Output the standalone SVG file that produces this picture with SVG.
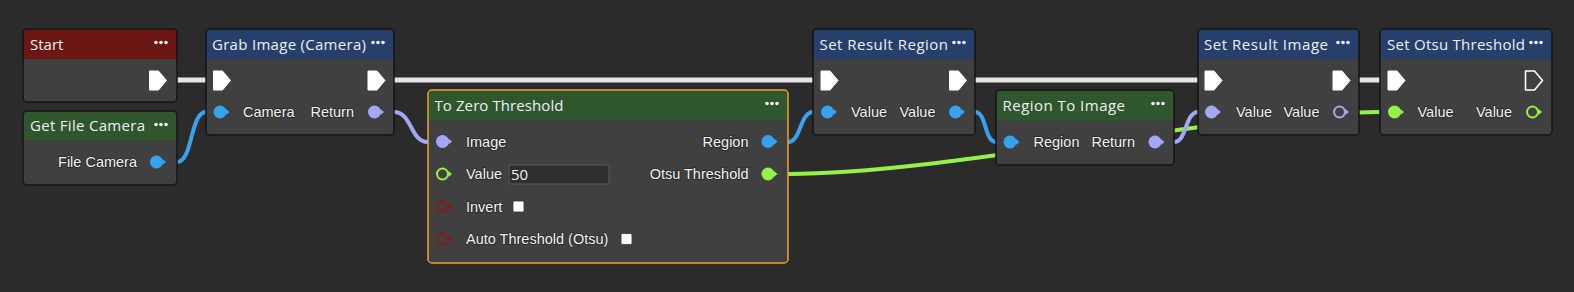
<svg xmlns="http://www.w3.org/2000/svg" width="1574" height="292" viewBox="0 0 1574 292">
<style>
.bg{fill:#2b2b2b}
.body{fill:#404040}
.frame{fill:none;stroke:#141414;stroke-width:1.5}
.sel{fill:none;stroke:#f0a22e;stroke-width:1.5}
.hr{fill:#6c1713}.hb{fill:#263f6b}.hg{fill:#30562d}
.title{font-family:"Open Sans","Liberation Sans",sans-serif;font-size:15px;fill:#eef0f4}
.lbl{font-family:"Liberation Sans",Arial,sans-serif;font-size:14.5px;fill:#f4f4f4;stroke:#262626;stroke-width:1.6;paint-order:stroke;stroke-linejoin:round}
.inp{font-family:"Open Sans","Liberation Sans",sans-serif;font-size:15px;fill:#f2f2f2}
.end{text-anchor:end}
.dot{fill:#f2f2f2}
.exec{fill:#ffffff;stroke:#ffffff;stroke-width:1;stroke-linejoin:round}
.exech{fill:none;stroke:#ffffff;stroke-width:1.6;stroke-linejoin:round}
.wire{fill:none;stroke-width:5;stroke-linecap:butt}
.wexec{stroke:#e6e6e6}
.wblue{stroke:#36a3ef;stroke-width:4}
.wlav{stroke:#a3a8f5;stroke-width:4}
.wgreen{stroke:#96f04a;stroke-width:4}
.pblue{fill:#36a3ef}.plav{fill:#a3a8f5}.pgreen{fill:#96f04a}
.hgreen{fill:#404040;stroke:#96f04a;stroke-width:2}
.hlav{fill:#404040;stroke:#a3a8f5;stroke-width:2}
.hred{fill:#404040;stroke:#8b1a14;stroke-width:2}
.tgreen{fill:#96f04a}.tlav{fill:#a3a8f5}.tred{fill:#8b1a14}.tblue{fill:#36a3ef}
.input{fill:#2f2f2f;stroke:#5a5a5a;stroke-width:1}
.chk{fill:#ffffff;stroke:#333;stroke-width:0.8}
</style>
<defs>
<path id="ex" d="M0,-9.5 H9 L17,0 L9,9.5 H0 Z"/>
<g id="dots"><circle cx="-21" cy="0" r="1.8"/><circle cx="-16" cy="0" r="1.8"/><circle cx="-11" cy="0" r="1.8"/></g>
</defs>
<rect class="bg" x="0" y="0" width="1574" height="292"/>

<g id="connectors">
<path class="wire wexec" d="M170,80 H213"/>
<path class="wire wexec" d="M385,80 H821"/>
<path class="wire wexec" d="M966,80 H1205"/>
<path class="wire wexec" d="M1350,80 H1388"/>
<path class="wire wblue" d="M177,162 C193,162 190,112 206,112"/>
<path class="wire wlav" d="M394,112 C412,112 410,142 428,142"/>
<path class="wire wblue" d="M788,142 C801,142 800,112 813,112"/>
<path class="wire wblue" d="M975,112 C987,112 984,142 996,142"/>
<path class="wire wgreen" d="M788,174 C948,174 1220,112 1380,112"/>
<path class="wire wlav" d="M1174,142 C1187,142 1185,112 1198,112"/>
</g>

<g id="node-start">
<rect class="body" x="23" y="29" width="154" height="73" rx="4"/>
<path class="hr" d="M23,59 V33 Q23,29 27,29 H173 Q177,29 177,33 V59 Z"/>
<rect class="frame" x="23" y="29" width="154" height="73" rx="4"/>
<text class="title" x="30" y="49.5">Start</text>
<use href="#dots" class="dot" x="177" y="42.5"/>
<use href="#ex" class="exec" x="149.5" y="80.5"/>
</g>

<g id="node-getfilecamera">
<rect class="body" x="23" y="111" width="154" height="74" rx="4"/>
<path class="hg" d="M23,140 V115 Q23,111 27,111 H173 Q177,111 177,115 V140 Z"/>
<rect class="frame" x="23" y="111" width="154" height="74" rx="4"/>
<text class="title" x="30" y="131" textLength="115">Get File Camera</text>
<use href="#dots" class="dot" x="177" y="124.5"/>
<text class="lbl end" x="137" y="167">File Camera</text>
<circle class="pblue" cx="156.5" cy="162" r="6.5"/><path class="tblue" d="M162.5,159 L166,162 L162.5,165 Z"/>
</g>

<g id="node-grabimage">
<rect class="body" x="206" y="29" width="188" height="106" rx="4"/>
<path class="hb" d="M206,59 V33 Q206,29 210,29 H390 Q394,29 394,33 V59 Z"/>
<rect class="frame" x="206" y="29" width="188" height="106" rx="4"/>
<text class="title" x="212" y="49.5" textLength="154">Grab Image (Camera)</text>
<use href="#dots" class="dot" x="394" y="42.5"/>
<use href="#ex" class="exec" x="213.5" y="80.5"/>
<use href="#ex" class="exec" x="368" y="80.5"/>
<circle class="pblue" cx="220" cy="112" r="6.5"/><path class="tblue" d="M226,109 L229.5,112 L226,115 Z"/>
<text class="lbl" x="243" y="117">Camera</text>
<text class="lbl end" x="354" y="117">Return</text>
<circle class="plav" cx="374.5" cy="112" r="6.5"/><path class="tlav" d="M380.5,109 L384,112 L380.5,115 Z"/>
</g>

<g id="node-tozerothreshold">
<rect class="body" x="428" y="90" width="360" height="173" rx="4"/>
<path class="hg" d="M428,120 V94 Q428,90 432,90 H784 Q788,90 788,94 V120 Z"/>
<rect class="sel" x="428" y="90" width="360" height="173" rx="4"/>
<text class="title" x="434.5" y="111" textLength="129">To Zero Threshold</text>
<use href="#dots" class="dot" x="788" y="103.5"/>
<circle class="plav" cx="442.5" cy="141.5" r="6.5"/><path class="tlav" d="M448.5,138.5 L452,141.5 L448.5,144.5 Z"/>
<text class="lbl" x="466" y="146.5">Image</text>
<circle class="hgreen" cx="442.5" cy="174" r="5.5"/><path class="tgreen" d="M448.5,171 L452,174 L448.5,177 Z"/>
<text class="lbl" x="466" y="179">Value</text>
<rect class="input" x="509" y="165" width="100" height="19" rx="2"/>
<text class="inp" x="511" y="180">50</text>
<circle class="hred" cx="442.5" cy="206.5" r="5.5"/><path class="tred" d="M448.5,203.5 L452,206.5 L448.5,209.5 Z"/>
<text class="lbl" x="466" y="211.5">Invert</text>
<rect class="chk" x="513" y="201" width="11" height="11" rx="1.5"/>
<circle class="hred" cx="442.5" cy="239" r="5.5"/><path class="tred" d="M448.5,236 L452,239 L448.5,242 Z"/>
<text class="lbl" x="466" y="244">Auto Threshold (Otsu)</text>
<rect class="chk" x="621" y="233.5" width="11" height="11" rx="1.5"/>
<text class="lbl end" x="748.5" y="146.5">Region</text>
<circle class="pblue" cx="768" cy="141.5" r="6.5"/><path class="tblue" d="M774,138.5 L777.5,141.5 L774,144.5 Z"/>
<text class="lbl end" x="748.5" y="179">Otsu Threshold</text>
<circle class="pgreen" cx="768" cy="174" r="6.5"/><path class="tgreen" d="M774,171 L777.5,174 L774,177 Z"/>
</g>

<g id="node-setresultregion">
<rect class="body" x="813" y="29" width="162" height="106" rx="4"/>
<path class="hb" d="M813,59 V33 Q813,29 817,29 H971 Q975,29 975,33 V59 Z"/>
<rect class="frame" x="813" y="29" width="162" height="106" rx="4"/>
<text class="title" x="819.5" y="49.5" textLength="128.5">Set Result Region</text>
<use href="#dots" class="dot" x="975" y="42.5"/>
<use href="#ex" class="exec" x="821" y="80.5"/>
<use href="#ex" class="exec" x="949.5" y="80.5"/>
<circle class="pblue" cx="827.5" cy="112" r="6.5"/><path class="tblue" d="M833.5,109 L837,112 L833.5,115 Z"/>
<text class="lbl" x="851" y="117">Value</text>
<text class="lbl end" x="935.5" y="117">Value</text>
<circle class="pblue" cx="955.5" cy="112" r="6.5"/><path class="tblue" d="M961.5,109 L965,112 L961.5,115 Z"/>
</g>

<g id="node-regiontoimage">
<rect class="body" x="996" y="90" width="178" height="75" rx="4"/>
<path class="hg" d="M996,120.5 V94 Q996,90 1000,90 H1170 Q1174,90 1174,94 V120.5 Z"/>
<rect class="frame" x="996" y="90" width="178" height="75" rx="4"/>
<text class="title" x="1002.5" y="111" textLength="122.5">Region To Image</text>
<use href="#dots" class="dot" x="1174" y="103.5"/>
<circle class="pblue" cx="1010" cy="142" r="6.5"/><path class="tblue" d="M1016,139 L1019.5,142 L1016,145 Z"/>
<text class="lbl" x="1033.5" y="147">Region</text>
<text class="lbl end" x="1135" y="147">Return</text>
<circle class="plav" cx="1155" cy="142" r="6.5"/><path class="tlav" d="M1161,139 L1164.5,142 L1161,145 Z"/>
</g>

<g id="node-setresultimage">
<rect class="body" x="1198" y="29" width="161" height="106" rx="4"/>
<path class="hb" d="M1198,59 V33 Q1198,29 1202,29 H1355 Q1359,29 1359,33 V59 Z"/>
<rect class="frame" x="1198" y="29" width="161" height="106" rx="4"/>
<text class="title" x="1204" y="49.5" textLength="124">Set Result Image</text>
<use href="#dots" class="dot" x="1359" y="42.5"/>
<use href="#ex" class="exec" x="1205" y="80.5"/>
<use href="#ex" class="exec" x="1333" y="80.5"/>
<circle class="plav" cx="1211.5" cy="112" r="6.5"/><path class="tlav" d="M1217.5,109 L1221,112 L1217.5,115 Z"/>
<text class="lbl" x="1236" y="117">Value</text>
<text class="lbl end" x="1319.5" y="117">Value</text>
<circle class="hlav" cx="1339.5" cy="112" r="5.5"/><path class="tlav" d="M1345.5,109 L1349,112 L1345.5,115 Z"/>
</g>

<g id="node-setotsuthreshold">
<rect class="body" x="1380" y="29" width="172" height="106" rx="4"/>
<path class="hb" d="M1380,59 V33 Q1380,29 1384,29 H1548 Q1552,29 1552,33 V59 Z"/>
<rect class="frame" x="1380" y="29" width="172" height="106" rx="4"/>
<text class="title" x="1387" y="49.5" textLength="138">Set Otsu Threshold</text>
<use href="#dots" class="dot" x="1552" y="42.5"/>
<use href="#ex" class="exec" x="1388" y="80.5"/>
<use href="#ex" class="exech" x="1525.5" y="80.5"/>
<circle class="pgreen" cx="1394.5" cy="112" r="6.5"/><path class="tgreen" d="M1400.5,109 L1404,112 L1400.5,115 Z"/>
<text class="lbl" x="1417.5" y="117">Value</text>
<text class="lbl end" x="1512" y="117">Value</text>
<circle class="hgreen" cx="1532.5" cy="112" r="5.5"/><path class="tgreen" d="M1538.5,109 L1542,112 L1538.5,115 Z"/>
</g>
</svg>
